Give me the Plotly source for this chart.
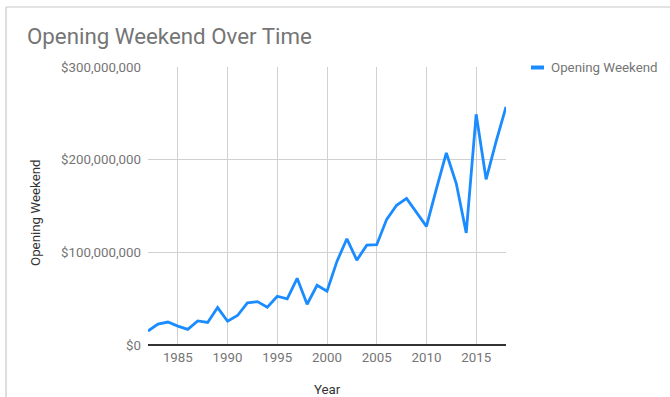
import plotly.graph_objects as go

# Largest opening weekend gross per year
years = list(range(1982, 2019))
opening_weekend = [
    15.1e6, 22.5e6, 24.8e6, 20.4e6, 16.9e6, 26.0e6, 24.3e6, 40.4e6, 25.6e6, 31.8e6,
    45.5e6, 46.8e6, 40.8e6, 52.6e6, 49.8e6, 72.0e6, 44.0e6, 64.5e6, 58.0e6, 90.2e6,
    114.6e6, 91.6e6, 107.8e6, 108.2e6, 135.6e6, 150.8e6, 158.2e6, 142.8e6, 128.0e6, 168.5e6,
    207.2e6, 174.2e6, 121.0e6, 249.0e6, 178.8e6, 219.5e6, 257.0e6,
]
x_ticks = [1985, 1990, 1995, 2000, 2005, 2010, 2015]
y_ticks = [0, 100e6, 200e6, 300e6]
y_tick_text = ["$0", "$100,000,000", "$200,000,000", "$300,000,000"]

LINE = "#1A8CFF"
GRAY = "#757575"
DARK = "#333333"
FONT = "Roboto"
FS = 13.3

fig = go.Figure()
fig.add_trace(go.Scatter(
    x=years, y=opening_weekend, mode="lines", name="Opening Weekend",
    line=dict(color=LINE, width=2.8), showlegend=False,
))

fig.update_layout(
    width=670, height=397,
    margin=dict(l=148, r=164, t=67, b=52),
    paper_bgcolor="white", plot_bgcolor="white",
    font=dict(family=FONT, size=FS, color=GRAY),
    title=dict(text="Opening Weekend Over Time", x=27 / 670, xanchor="left",
               y=1 - 36 / 397, yanchor="middle",
               font=dict(family=FONT, size=22.3, color=GRAY)),
    xaxis=dict(range=[1982, 2018], tickvals=x_ticks, showgrid=True,
               gridcolor="#d0d0d0", gridwidth=1, zeroline=False, showline=False,
               ticks="", ticklabelstandoff=3, tickfont=dict(size=FS, color=GRAY)),
    yaxis=dict(range=[0, 300e6], tickvals=y_ticks, ticktext=y_tick_text,
               showgrid=True, gridcolor="#d0d0d0", gridwidth=1,
               zeroline=True, zerolinecolor=DARK, zerolinewidth=1.6,
               showline=False, ticks="", ticklabelstandoff=6,
               tickfont=dict(size=FS, color=GRAY)),
    annotations=[
        dict(text="Year", xref="paper", yref="paper", x=(327 - 148) / 358,
             y=-(390 - 345) / 278, xanchor="center", yanchor="middle",
             showarrow=False, font=dict(family=FONT, size=FS, color=DARK)),
        dict(text="Opening Weekend", xref="paper", yref="paper", x=-(148 - 35) / 358,
             y=(345 - 213) / 278, xanchor="center", yanchor="middle", textangle=-90,
             showarrow=False, font=dict(family=FONT, size=FS, color=DARK)),
        dict(text="Opening Weekend", xref="paper", yref="paper", x=(549 - 148) / 358,
             y=(345 - 67) / 278, xanchor="left", yanchor="middle",
             showarrow=False, font=dict(family=FONT, size=FS, color=GRAY)),
    ],
    shapes=[
        # legend swatch
        dict(type="line", xref="paper", yref="paper",
             x0=(531 - 148) / 358, x1=(544 - 148) / 358,
             y0=(345 - 67.5) / 278, y1=(345 - 67.5) / 278,
             line=dict(color=LINE, width=4)),
        # card frame
        dict(type="line", xref="paper", yref="paper",
             x0=-(148 - 6) / 358, x1=(670 - 148) / 358,
             y0=(345 - 7) / 278, y1=(345 - 7) / 278,
             line=dict(color="#c8c8c8", width=1.2)),
        dict(type="line", xref="paper", yref="paper",
             x0=-(148 - 6) / 358, x1=-(148 - 6) / 358,
             y0=(345 - 7) / 278, y1=-(397 - 345) / 278,
             line=dict(color="#c8c8c8", width=1.2)),
    ],
)

fig.write_html("out.html")
